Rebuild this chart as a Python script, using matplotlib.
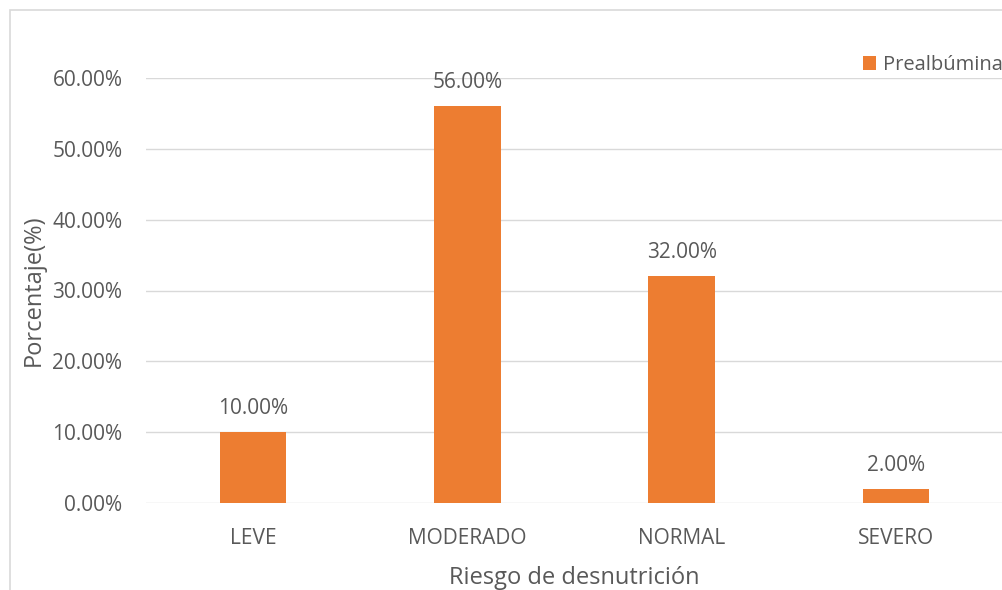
import matplotlib.pyplot as plt
from matplotlib.patches import Rectangle
from matplotlib.ticker import FuncFormatter

categorias = ['LEVE', 'MODERADO', 'NORMAL', 'SEVERO']
prealbumina = [10.0, 56.0, 32.0, 2.0]
yticks = [0, 10, 20, 30, 40, 50, 60]

gris = '#595959'
naranja = '#ED7D31'

plt.rcParams['font.family'] = ['Open Sans', 'DejaVu Sans']

fig = plt.figure(figsize=(10.02, 5.9), dpi=100)
ax = fig.add_axes([146 / 1002, 87 / 590, 857 / 1002, 425 / 590])

x = list(range(len(categorias)))
bars = ax.bar(x, prealbumina, width=0.31, color=naranja, label='Prealbúmina', zorder=3)

for b, v in zip(bars, prealbumina):
    ax.annotate(f'{v:.2f}%', (b.get_x() + b.get_width() / 2, v), xytext=(0, 17),
                textcoords='offset points', ha='center', va='center',
                fontsize=15, color=gris)

ax.set_xlim(-0.5, len(categorias) - 0.5)
ax.set_ylim(0, 60)
ax.set_yticks(yticks)
ax.yaxis.set_major_formatter(FuncFormatter(lambda v, p: f'{v:.2f}%'))
ax.set_xticks(x)
ax.set_xticklabels(categorias)
ax.tick_params(axis='both', length=0, labelsize=15, labelcolor=gris)
ax.tick_params(axis='x', pad=18)
ax.tick_params(axis='y', pad=17)
ax.grid(axis='y', color='#D9D9D9', linewidth=1, zorder=0)
for s in ax.spines.values():
    s.set_visible(False)

ax.set_xlabel('Riesgo de desnutrición', fontsize=17, color=gris, labelpad=12)
ax.set_ylabel('Porcentaje(%)', fontsize=17, color=gris, labelpad=5)

fig.legend(loc='upper left', bbox_to_anchor=(855 / 1002, 1 - 47 / 590), frameon=False,
           fontsize=14.5, labelcolor=gris, handlelength=0.65, handleheight=0.65,
           handletextpad=0.35, borderaxespad=0)

fig.add_artist(Rectangle((10 / 1002, -0.1), 1.2, 1.1 - 10 / 590, transform=fig.transFigure,
                         fill=False, edgecolor='#D9D9D9', linewidth=1.2))

fig.savefig('out.png', dpi=100)
